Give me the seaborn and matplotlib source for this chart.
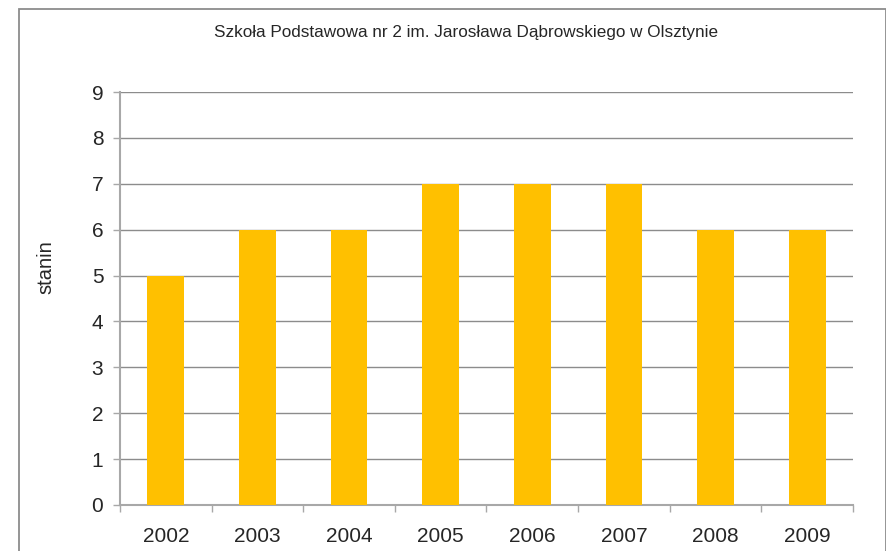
import seaborn as sns
import matplotlib.pyplot as plt
import pandas as pd
from matplotlib.patches import Rectangle
from matplotlib.ticker import FixedLocator

years = ['2002', '2003', '2004', '2005', '2006', '2007', '2008', '2009']
stanin = [5, 6, 6, 7, 7, 7, 6, 6]
title = 'Szkoła Podstawowa nr 2 im. Jarosława Dąbrowskiego w Olsztynie'

sns.set_style('white')
plt.rcParams['font.family'] = ['Liberation Sans', 'DejaVu Sans']

df = pd.DataFrame({'rok': years, 'stanin': stanin})

fig = plt.figure(figsize=(8.87, 5.51), dpi=100)
ax = fig.add_axes([120 / 887, 1 - 505 / 551, 733 / 887, 413 / 551])

sns.barplot(data=df, x='rok', y='stanin', color='#FFC000', saturation=1,
            width=0.4, linewidth=0, ax=ax, zorder=3)

ax.set_xlim(-0.5, len(years) - 0.5)
ax.set_ylim(0, 9)
ax.set_yticks(range(0, 10))
ax.yaxis.grid(True, color='#8c8c8c', lw=1, zorder=0)
ax.set_axisbelow(True)

for s in ['top', 'right']:
    ax.spines[s].set_visible(False)
for s in ['left', 'bottom']:
    ax.spines[s].set_color('#a8a8a8')
    ax.spines[s].set_linewidth(1.5)

ax.tick_params(axis='y', direction='out', length=5, width=1, color='#a8a8a8',
               labelsize=15, pad=7, left=True)
ax.tick_params(axis='x', which='major', length=0, labelsize=15, pad=16)
ax.xaxis.set_minor_locator(FixedLocator([i - 0.5 for i in range(len(years) + 1)]))
ax.tick_params(axis='x', which='minor', direction='out', length=5, width=1,
               color='#a8a8a8', bottom=True)

ax.set_xlabel('')
ax.set_ylabel('stanin', fontsize=14.5)
ax.yaxis.set_label_coords(-0.0884, 0.577)

fig.text(466.5 / 887, 1 - 33 / 551, title, ha='center', va='center', fontsize=12.3)

fig.patches.append(Rectangle((19 / 887, -0.1), 867 / 887, 1.1 - 8.5 / 551,
                             transform=fig.transFigure, fill=False,
                             edgecolor='#8c8c8c', lw=1.3, figure=fig))

fig.savefig('out.png', dpi=100)
